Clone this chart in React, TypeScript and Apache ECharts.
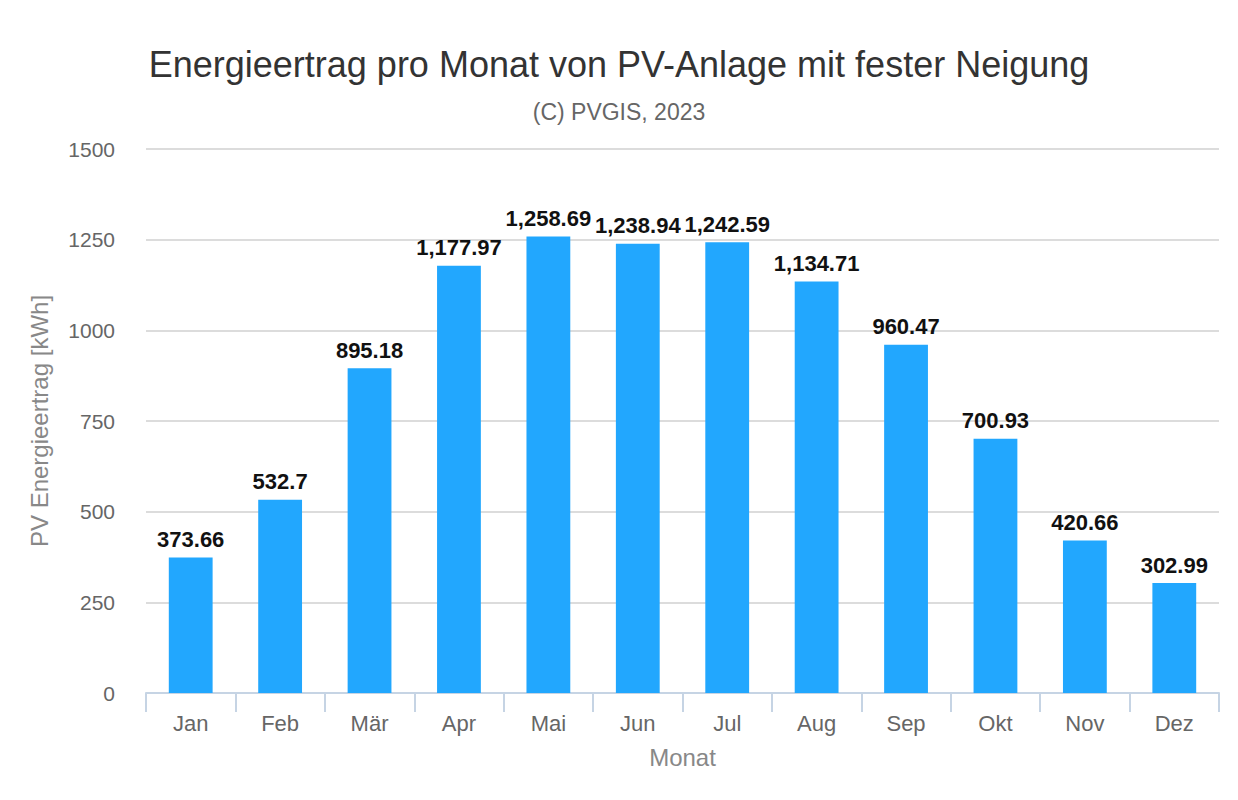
import React, { useEffect, useRef } from "react";
import * as echarts from "echarts";

const titleText = "Energieertrag pro Monat von PV-Anlage mit fester Neigung";
const subtitleText = "(C) PVGIS, 2023";
const months = ["Jan", "Feb", "Mär", "Apr", "Mai", "Jun", "Jul", "Aug", "Sep", "Okt", "Nov", "Dez"];
const energy = [373.66, 532.7, 895.18, 1177.97, 1258.69, 1238.94, 1242.59, 1134.71, 960.47, 700.93, 420.66, 302.99];
const yName = "PV Energieertrag [kWh]";
const xName = "Monat";
const yMin = 0;
const yMax = 1500;
const yStep = 250;

const FONT = "'Liberation Sans', Arial, Helvetica, sans-serif";

export default function App() {
  const ref = useRef<HTMLDivElement>(null);
  useEffect(() => {
    if (!ref.current) return;
    const chart = echarts.init(ref.current, null, { renderer: "svg" });
    chart.setOption({
      animation: false,
      backgroundColor: "#ffffff",
      textStyle: { fontFamily: FONT },
      title: [
        {
          text: titleText,
          left: "center",
          top: 41,
          textStyle: { fontSize: 36, fontWeight: "normal", color: "#333333", fontFamily: FONT },
        },
        {
          text: subtitleText,
          left: "center",
          top: 95,
          textStyle: { fontSize: 23, fontWeight: "normal", color: "#666666", fontFamily: FONT },
        },
      ],
      grid: { left: 146, right: 19, top: 149, bottom: 107, outerBoundsMode: "none", containLabel: false },
      xAxis: {
        type: "category",
        data: months,
        name: xName,
        nameLocation: "middle",
        nameGap: 52,
        nameTextStyle: { fontSize: 24, color: "#888888", fontFamily: FONT },
        axisLine: { show: true, lineStyle: { color: "#c6d4e4", width: 2 } },
        axisTick: { show: true, length: 19, lineStyle: { color: "#c6d4e4", width: 2 } },
        axisLabel: { fontSize: 22, color: "#666666", margin: 19, fontFamily: FONT },
        splitLine: { show: false },
      },
      yAxis: {
        type: "value",
        min: yMin,
        max: yMax,
        interval: yStep,
        name: yName,
        nameLocation: "middle",
        nameGap: 95,
        nameTextStyle: { fontSize: 24, color: "#888888", fontFamily: FONT },
        axisLine: { show: false },
        axisTick: { show: false },
        axisLabel: {
          fontSize: 21,
          color: "#666666",
          margin: 31,
          fontFamily: FONT,
          formatter: (v: number) => String(v),
        },
        splitLine: { show: true, lineStyle: { color: "#dcdcdc", width: 2 } },
      },
      series: [
        {
          type: "bar",
          data: energy,
          barWidth: "49%",
          itemStyle: { color: "#22a7fe" },
          label: {
            show: true,
            position: "top",
            distance: 7,
            fontSize: 22,
            fontWeight: "bold",
            color: "#111111",
            fontFamily: FONT,
            formatter: (p: any) =>
              Number(p.value).toLocaleString("en-US", { maximumFractionDigits: 2 }),
          },
        },
      ],
    });
    return () => chart.dispose();
  }, []);
  return (
    <div
      ref={ref}
      style={{ position: "fixed", left: 0, top: 0, width: 1238, height: 800, background: "#fff" }}
    />
  );
}
